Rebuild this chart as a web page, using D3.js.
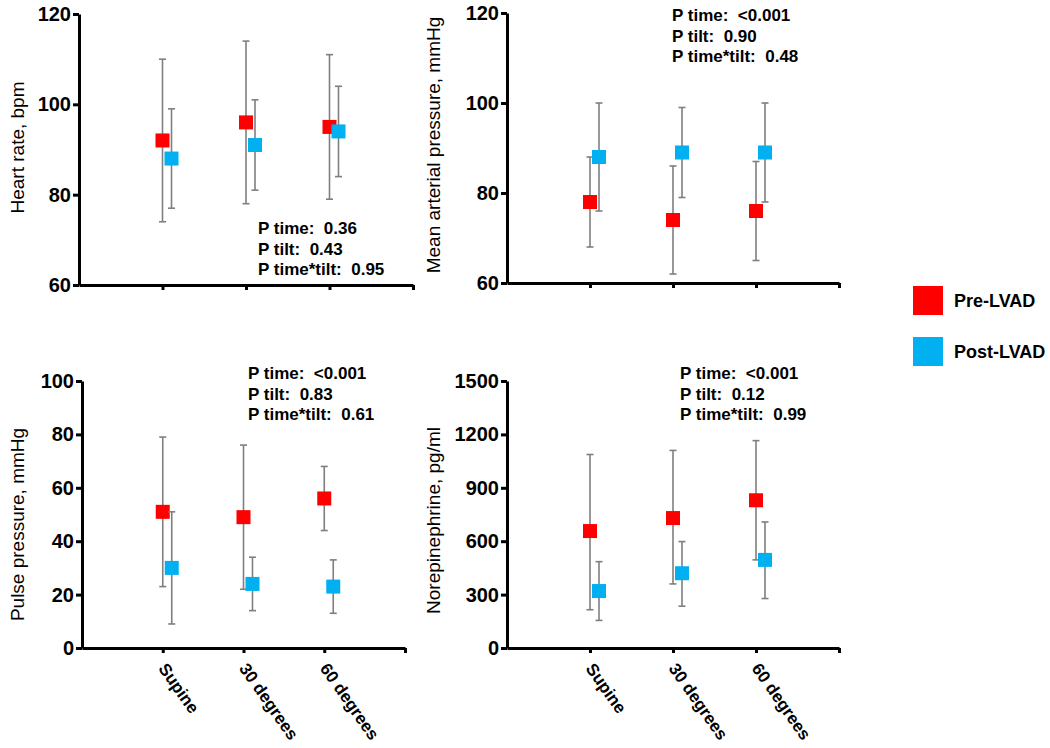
<!DOCTYPE html>
<html><head><meta charset="utf-8">
<script src="https://cdn.jsdelivr.net/npm/d3@7"></script>
<style>
body{margin:0;background:#fff}
text{font-family:"Liberation Sans",Arial,sans-serif}
</style>
</head><body>
<svg id="c" width="1050" height="748"></svg>
<script>
// ---------- data ----------
const categories = ["Supine", "30 degrees", "60 degrees"];
const seriesNames = ["Pre-LVAD", "Post-LVAD"];

// Heart rate, bpm
const hrPreMean = [92, 96, 95], hrPreLow = [74, 78, 79], hrPreHigh = [110, 114, 111];
const hrPostMean = [88, 91, 94], hrPostLow = [77, 81, 84], hrPostHigh = [99, 101, 104];
const hrTicks = [60, 80, 100, 120];
const hrStats = ["P time:  0.36", "P tilt:  0.43", "P time*tilt:  0.95"];

// Mean arterial pressure, mmHg
const mapPreMean = [78, 74, 76], mapPreLow = [68, 62, 65], mapPreHigh = [88, 86, 87];
const mapPostMean = [88, 89, 89], mapPostLow = [76, 79, 78], mapPostHigh = [100, 99, 100];
const mapTicks = [60, 80, 100, 120];
const mapStats = ["P time:  <0.001", "P tilt:  0.90", "P time*tilt:  0.48"];

// Pulse pressure, mmHg
const ppPreMean = [51, 49, 56], ppPreLow = [23, 22, 44], ppPreHigh = [79, 76, 68];
const ppPostMean = [30, 24, 23], ppPostLow = [9, 14, 13], ppPostHigh = [51, 34, 33];
const ppTicks = [0, 20, 40, 60, 80, 100];
const ppStats = ["P time:  <0.001", "P tilt:  0.83", "P time*tilt:  0.61"];

// Norepinephrine, pg/ml
const nePreMean = [657, 730, 830], nePreLow = [215, 360, 495], nePreHigh = [1087, 1110, 1165];
const nePostMean = [320, 420, 495], nePostLow = [155, 235, 278], nePostHigh = [485, 598, 708];
const neTicks = [0, 300, 600, 900, 1200, 1500];
const neStats = ["P time:  <0.001", "P tilt:  0.12", "P time*tilt:  0.99"];

const colors = ["#ff0000", "#00b0f0"];

// ---------- layout ----------
const panels = [
  {title:"Heart rate, bpm", ticks:hrTicks, stats:hrStats,
   pre:[hrPreMean,hrPreLow,hrPreHigh], post:[hrPostMean,hrPostLow,hrPostHigh],
   left:79, top:14, w:334, h:271, titleX:17, titleDy:-2, statX:258, statY:234, xlabels:false},
  {title:"Mean arterial pressure, mmHg", ticks:mapTicks, stats:mapStats,
   pre:[mapPreMean,mapPreLow,mapPreHigh], post:[mapPostMean,mapPostLow,mapPostHigh],
   left:507, top:13, w:332, h:270, titleX:433, titleDy:-3, statX:672, statY:21, xlabels:false},
  {title:"Pulse pressure, mmHg", ticks:ppTicks, stats:ppStats,
   pre:[ppPreMean,ppPreLow,ppPreHigh], post:[ppPostMean,ppPostLow,ppPostHigh],
   left:82, top:381, w:323, h:267, titleX:17, titleDy:10, statX:248, statY:379, xlabels:true},
  {title:"Norepinephrine, pg/ml", ticks:neTicks, stats:neStats,
   pre:[nePreMean,nePreLow,nePreHigh], post:[nePostMean,nePostLow,nePostHigh],
   left:507, top:381, w:332, h:267, titleX:433, titleDy:6, statX:680, statY:379, xlabels:true}
];

const svg = d3.select("#c");
const markerSize = 14, capHalf = 3.5, postOffset = 9;

panels.forEach(p => {
  const g = svg.append("g");
  const x = d3.scaleLinear().domain([0, 4]).range([p.left, p.left + p.w]);
  const y = d3.scaleLinear().domain([p.ticks[0], p.ticks[p.ticks.length-1]]).range([p.top + p.h, p.top]);

  // y axis
  const ya = g.append("g").attr("transform", `translate(${p.left},0)`)
    .call(d3.axisLeft(y).tickValues(p.ticks).tickFormat(d3.format("d"))
      .tickSize(6).tickSizeOuter(0).tickPadding(2));
  ya.select(".domain").attr("stroke", "#000").attr("stroke-width", 3);
  ya.selectAll(".tick line").attr("stroke", "#000").attr("stroke-width", 3);
  ya.selectAll(".tick text").attr("font-size", 20).attr("font-weight", "bold")
    .attr("fill", "#000").attr("font-family", '"Liberation Sans",Arial,sans-serif');

  // x axis
  const xa = g.append("g").attr("transform", `translate(0,${p.top + p.h})`)
    .call(d3.axisBottom(x).tickValues([1, 2, 3, 4]).tickSize(5).tickSizeOuter(0).tickFormat(""));
  xa.select(".domain").attr("stroke", "#000").attr("stroke-width", 3);
  xa.selectAll(".tick line").attr("stroke", "#000").attr("stroke-width", 3);

  if (p.xlabels) {
    categories.forEach((c, i) => {
      g.append("text")
        .attr("transform", `translate(${x(i + 1)},${p.top + p.h + 17}) rotate(55)`)
        .attr("dy", "0.35em")
        .attr("font-size", 17).attr("font-weight", "bold").attr("fill", "#000")
        .text(c);
    });
  }

  // y title
  g.append("text")
    .attr("transform", `translate(${p.titleX},${p.top + p.h / 2 + p.titleDy}) rotate(-90)`)
    .attr("text-anchor", "middle").attr("dy", "0.35em")
    .attr("font-size", 19).attr("fill", "#000")
    .text(p.title);

  // series
  [p.pre, p.post].forEach((s, si) => {
    const [mean, lo, hi] = s;
    const off = si === 0 ? 0 : postOffset;
    categories.forEach((c, i) => {
      const cx = x(i + 1) + off;
      const eb = g.append("g").attr("stroke", "#7f7f7f").attr("stroke-width", 1.6);
      eb.append("line").attr("x1", cx).attr("x2", cx).attr("y1", y(lo[i])).attr("y2", y(hi[i]));
      eb.append("line").attr("x1", cx - capHalf).attr("x2", cx + capHalf).attr("y1", y(lo[i])).attr("y2", y(lo[i]));
      eb.append("line").attr("x1", cx - capHalf).attr("x2", cx + capHalf).attr("y1", y(hi[i])).attr("y2", y(hi[i]));
    });
    categories.forEach((c, i) => {
      const cx = x(i + 1) + off;
      g.append("rect")
        .attr("x", cx - markerSize / 2).attr("y", y(mean[i]) - markerSize / 2)
        .attr("width", markerSize).attr("height", markerSize)
        .attr("fill", colors[si]);
    });
  });

  // stats text
  p.stats.forEach((t, i) => {
    g.append("text")
      .attr("x", p.statX).attr("y", p.statY + i * 20.5)
      .attr("font-size", 17).attr("font-weight", "bold").attr("fill", "#000")
      .style("white-space", "pre")
      .text(t);
  });
});

// legend
const legendY = [286, 337];
seriesNames.forEach((n, i) => {
  svg.append("rect").attr("x", 913).attr("y", legendY[i]).attr("width", 30).attr("height", 29)
    .attr("fill", colors[i]);
  svg.append("text").attr("x", 954).attr("y", legendY[i] + 15).attr("dy", "0.35em")
    .attr("font-size", 18).attr("font-weight", "bold").attr("fill", "#000").text(n);
});
</script>
</body></html>
